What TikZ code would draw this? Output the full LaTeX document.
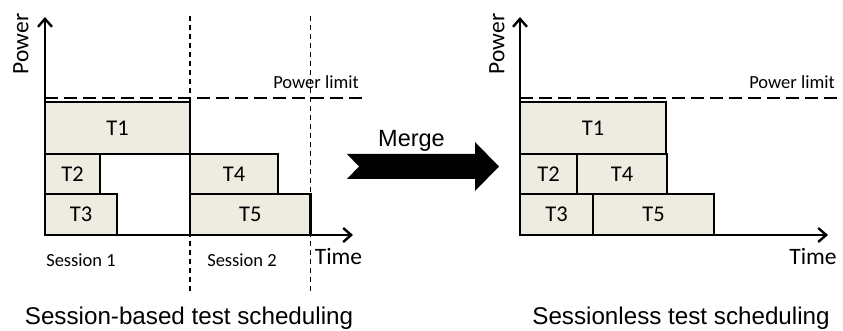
\documentclass[tikz,border=0pt]{standalone}
\usepackage{fontspec}
\setmainfont{Carlito}
\newfontfamily\arialf{Liberation Sans}
\usetikzlibrary{arrows.meta}
\definecolor{taskfill}{HTML}{EEECE1}
\tikzset{
  task/.style={draw=black, fill=taskfill, line width=2.6pt, inner sep=0pt,
               font=\fontsize{22.5}{24}\selectfont},
  axis/.style={line width=2.6pt, -{Straight Barb[length=8pt,width=14pt,line width=2.4pt]}},
  limit/.style={line width=2pt, dash pattern=on 13pt off 6pt},
  boundary/.style={line width=1.1pt, dash pattern=on 5pt off 4pt},
  smalllabel/.style={font=\fontsize{18.5}{20}\selectfont, inner sep=0pt},
  axislabel/.style={font=\fontsize{23.5}{25}\selectfont, inner sep=0pt},
  caption/.style={font=\arialf\fontsize{24.2}{26}\selectfont, inner sep=0pt},
}
\begin{document}
\begin{tikzpicture}[x=1pt,y=-1pt]
\useasboundingbox (0,0) rectangle (843,331);

% ---------- session-based schedule ----------
\coordinate (oL) at (45,235);
\coordinate (yL) at (45,17);
\coordinate (xL) at (353,235);
\coordinate (pLa) at (45,98);
\coordinate (pLb) at (368,98);
\coordinate (s1a) at (190,16);
\coordinate (s1b) at (190,293);
\coordinate (s2a) at (310.5,16);
\coordinate (s2b) at (310.5,293);

\draw[boundary] (s1a) -- (s1b);
\draw[boundary] (s2a) -- (s2b);
\draw[limit] (pLa) -- (pLb);

\node[task, minimum width=145pt, minimum height=52pt] (l1) at (117.5,128) {T1};
\node[task, minimum width=55pt,  minimum height=40pt] (l2) at (72.5,174) {T2};
\node[task, minimum width=72pt,  minimum height=41pt] (l3) at (81,214.5) {T3};
\node[task, minimum width=88pt,  minimum height=40pt] (l4) at (234,174) {T4};
\node[task, minimum width=120.5pt, minimum height=41pt] (l5) at (250.25,214.5) {T5};

\draw[axis] (oL) -- (yL);
\draw[axis] (oL) -- (xL);

\node[axislabel, rotate=90] (powL) at (21,44) {Power};
\node[axislabel] (timeL) at (338.5,256) {Time};
\node[smalllabel] (limL) at (316,82) {Power limit};
\node[smalllabel] (ses1) at (81,260) {Session 1};
\node[smalllabel] (ses2) at (242,260) {Session 2};
\node[caption] (capL) at (189,318) {Session-based test scheduling};

% ---------- merge arrow ----------
\fill[black] (347,154) -- (475,154) -- (475,142) -- (499,166.5) -- (475,191)
  -- (475,179) -- (347,179) -- (359,166.5) -- cycle;
\node[font=\arialf\fontsize{23.5}{25}\selectfont, inner sep=0pt] (merge) at (411.5,141) {Merge};

% ---------- sessionless schedule ----------
\coordinate (oR) at (520,235);
\coordinate (yR) at (520,17);
\coordinate (xR) at (828,235);
\coordinate (pRa) at (520,98);
\coordinate (pRb) at (845,98);

\draw[limit] (pRa) -- (pRb);

\node[task, minimum width=146pt, minimum height=52pt] (r1) at (593,128) {T1};
\node[task, minimum width=57pt,  minimum height=40pt] (r2) at (548.5,174) {T2};
\node[task, minimum width=90pt,  minimum height=40pt] (r4) at (622,174) {T4};
\node[task, minimum width=73pt,  minimum height=41pt] (r3) at (556.5,214.5) {T3};
\node[task, minimum width=121pt, minimum height=41pt] (r5) at (653.5,214.5) {T5};

\draw[axis] (oR) -- (yR);
\draw[axis] (oR) -- (xR);

\node[axislabel, rotate=90] (powR) at (497,44) {Power};
\node[axislabel] (timeR) at (813,256) {Time};
\node[smalllabel] (limR) at (792,82) {Power limit};
\node[caption] (capR) at (681,318) {Sessionless test scheduling};
\end{tikzpicture}
\end{document}
